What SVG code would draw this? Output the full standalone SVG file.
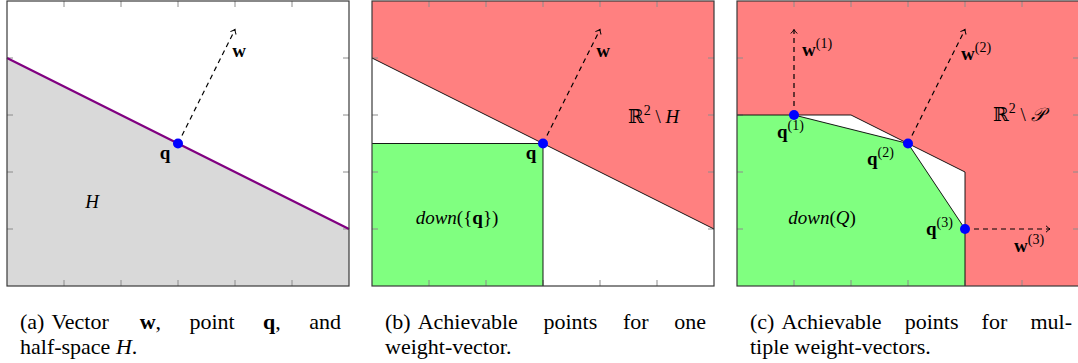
<svg xmlns="http://www.w3.org/2000/svg" width="1078" height="363" viewBox="0 0 1078 363">
<style>
.frame{fill:none;stroke:#3a3a3a;stroke-width:1.2}
.tick{stroke:#8c8c8c;stroke-width:1}
.edge{fill:none;stroke:#000;stroke-width:0.9}
.vec{fill:none;stroke:#000;stroke-width:1.2;stroke-dasharray:5 4;marker-end:url(#tip)}
.dot{fill:#0000ff}
.red{fill:#ff8080}
.green{fill:#80ff80}
.lbl{font-family:"Liberation Serif","DejaVu Serif",serif;font-size:19px;fill:#000}
.b{font-weight:bold}
.i{font-style:italic}
.cap{font-family:"Liberation Serif","DejaVu Serif",serif;font-size:22px;fill:#000}
.sup{font-size:14px}
</style>
<defs>
<marker id="tip" markerWidth="10" markerHeight="10" refX="0" refY="0" viewBox="-6 -5 8 10" orient="auto" markerUnits="userSpaceOnUse">
<path d="M-4,-3.2 Q-1.5,-0.8 0,0 Q-1.5,0.8 -4,3.2" fill="none" stroke="#000" stroke-width="1" stroke-dasharray="none"/>
</marker>
<g id="ticks">
<path class="tick" d="M57,1v6M114,1v6M171,1v6M228,1v6M285,1v6M57,286v-6M114,286v-6M171,286v-6M228,286v-6M285,286v-6M0,229h6M0,172h6M0,115h6M0,58h6M342,229h-6M342,172h-6M342,115h-6M342,58h-6"/>
</g>
</defs>

<!-- Panel (a) -->
<g id="panel-a">
<rect x="7" y="1" width="342" height="285" fill="#fff"/>
<polygon points="7,58 349,229 349,286 7,286" fill="#d9d9d9"/>
<use href="#ticks" x="7"/>
<line x1="7" y1="58" x2="349" y2="229" stroke="#800080" stroke-width="2.2"/>
<rect class="frame" x="7" y="1" width="342" height="285"/>
<text class="lbl i" x="92" y="208" text-anchor="middle">H</text>
</g>
<g id="node-a-q">
<circle class="dot" cx="178" cy="143.5" r="5"/>
<text class="lbl b" x="165" y="159" text-anchor="middle">q</text>
</g>
<g id="node-a-w">
<text class="lbl b" x="239" y="57" text-anchor="middle">w</text>
</g>

<!-- Panel (b) -->
<g id="panel-b">
<rect x="372" y="1" width="342" height="285" fill="#fff"/>
<polygon class="red" points="372,1 714,1 714,229 372,58"/>
<rect class="green" x="372" y="143.5" width="171" height="142.5"/>
<use href="#ticks" x="372"/>
<line class="edge" x1="372" y1="58" x2="714" y2="229"/>
<polyline class="edge" points="372,143.5 543,143.5 543,286"/>
<rect class="frame" x="372" y="1" width="342" height="285"/>
<text class="lbl" x="628" y="123">ℝ<tspan class="sup" dy="-8">2</tspan><tspan dy="8"> \ </tspan><tspan class="i">H</tspan></text>
<text class="lbl" x="457" y="224" text-anchor="middle"><tspan class="i">down</tspan>({<tspan class="b">q</tspan>})</text>
</g>
<g id="node-b-q">
<circle class="dot" cx="543" cy="143.5" r="5"/>
<text class="lbl b" x="531" y="159" text-anchor="middle">q</text>
</g>
<g id="node-b-w">
<text class="lbl b" x="603" y="57" text-anchor="middle">w</text>
</g>

<!-- Panel (c) -->
<g id="panel-c">
<rect class="red" x="737" y="1" width="342" height="285"/>
<polygon points="737,286 737,115 851,115 965,172 965,286" fill="#fff"/>
<polygon class="green" points="737,286 737,115 794,115 908,143.5 965,229 965,286"/>
<use href="#ticks" x="737"/>
<polyline class="edge" points="737,115 851,115 965,172 965,286"/>
<polyline class="edge" points="794,115 908,143.5 965,229"/>
<rect class="frame" x="737" y="1" width="342" height="285"/>
<text class="lbl" x="993" y="121">ℝ<tspan class="sup" dy="-8">2</tspan><tspan dy="8"> \ </tspan><tspan class="i">𝒫</tspan></text>
<text class="lbl" x="822" y="224" text-anchor="middle"><tspan class="i">down</tspan>(<tspan class="i">Q</tspan>)</text>
</g>
<g id="node-c-q1">
<circle class="dot" cx="794" cy="115" r="5"/>
<text class="lbl" x="777" y="138"><tspan class="b">q</tspan><tspan class="sup" dy="-8">(1)</tspan></text>
</g>
<g id="node-c-q2">
<circle class="dot" cx="908" cy="143.5" r="5"/>
<text class="lbl" x="867" y="165"><tspan class="b">q</tspan><tspan class="sup" dy="-8">(2)</tspan></text>
</g>
<g id="node-c-q3">
<circle class="dot" cx="965" cy="229" r="5"/>
<text class="lbl" x="926" y="235"><tspan class="b">q</tspan><tspan class="sup" dy="-8">(3)</tspan></text>
</g>
<g id="node-c-w1">
<text class="lbl" x="802" y="56"><tspan class="b">w</tspan><tspan class="sup" dy="-8">(1)</tspan></text>
</g>
<g id="node-c-w2">
<text class="lbl" x="961" y="60"><tspan class="b">w</tspan><tspan class="sup" dy="-8">(2)</tspan></text>
</g>
<g id="node-c-w3">
<text class="lbl" x="1014" y="252"><tspan class="b">w</tspan><tspan class="sup" dy="-8">(3)</tspan></text>
</g>

<!-- Connectors -->
<g id="connectors">
<line class="vec" x1="182" y1="135.5" x2="235" y2="29.5"/>
<line class="vec" x1="547" y1="135.5" x2="600" y2="29.5"/>
<line class="vec" x1="794" y1="106" x2="794" y2="29.5"/>
<line class="vec" x1="912" y1="135.5" x2="965" y2="29.5"/>
<line class="vec" x1="974" y1="229" x2="1050" y2="229"/>
</g>

<!-- Captions -->
<g id="captions">
<text class="cap" x="20" y="329">(a)</text>
<text class="cap" x="51.4" y="329">Vector</text>
<text class="cap b" x="139.7" y="329">w<tspan font-weight="normal">,</tspan></text>
<text class="cap" x="189.5" y="329">point</text>
<text class="cap b" x="263.1" y="329">q<tspan font-weight="normal">,</tspan></text>
<text class="cap" x="341" y="329" text-anchor="end">and</text>
<text class="cap" x="20" y="354">half-space <tspan class="i">H</tspan>.</text>

<text class="cap" x="385" y="329">(b)</text>
<text class="cap" x="417.7" y="329">Achievable</text>
<text class="cap" x="543.5" y="329">points</text>
<text class="cap" x="622.9" y="329">for</text>
<text class="cap" x="706" y="329" text-anchor="end">one</text>
<text class="cap" x="385" y="354">weight-vector.</text>

<text class="cap" x="750" y="329">(c)</text>
<text class="cap" x="781.4" y="329">Achievable</text>
<text class="cap" x="904.7" y="329">points</text>
<text class="cap" x="981.6" y="329">for</text>
<text class="cap" x="1072" y="329" text-anchor="end">mul-</text>
<text class="cap" x="750" y="354">tiple weight-vectors.</text>
</g>
</svg>
